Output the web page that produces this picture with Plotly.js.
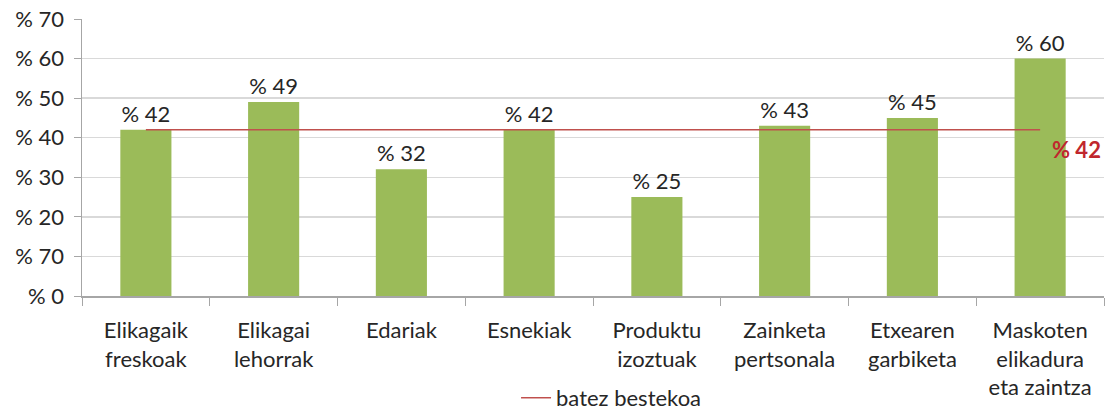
<!DOCTYPE html>
<html>
<head>
<meta charset="utf-8">
<script src="https://cdn.plot.ly/plotly-3.0.1.min.js"></script>
<style>html,body{margin:0;padding:0;background:#fff}#chart{width:1107px;height:410px}</style>
</head>
<body>
<div id="chart"></div>
<script>
const categories = ["Elikagaik<br>freskoak", "Elikagai<br>lehorrak", "Edariak", "Esnekiak", "Produktu<br>izoztuak", "Zainketa<br>pertsonala", "Etxearen<br>garbiketa", "Maskoten<br>elikadura<br>eta zaintza"];
const values = [42, 49, 32, 42, 25, 43, 45, 60];
const valueLabels = ["% 42", "% 49", "% 32", "% 42", "% 25", "% 43", "% 45", "% 60"];
const averageValue = 42;
const averageLabel = "% 42";
const averageName = "batez bestekoa";
const yTickVals = [0, 10, 20, 30, 40, 50, 60, 70];
const yTickText = ["% 0", "% 70", "% 20", "% 30", "% 40", "% 50", "% 60", "% 70"];

const FONT = "Lato, 'Open Sans', sans-serif";
const TXT = "#262626";

const bars = {
  type: "bar",
  x: categories,
  y: values,
  text: valueLabels,
  textposition: "outside",
  cliponaxis: false,
  textfont: {family: FONT, size: 22, color: TXT},
  marker: {color: "#9BBB59"},
  width: 0.4,
  showlegend: false,
  hoverinfo: "skip"
};
const avg = {
  type: "scatter",
  mode: "lines",
  x: categories,
  y: categories.map(() => averageValue),
  name: averageName,
  line: {color: "#C0504D", width: 1.5},
  showlegend: true
};

const layout = {
  width: 1107, height: 410,
  margin: {l: 82, r: 3, t: 19, b: 114, autoexpand: false},
  paper_bgcolor: "#fff", plot_bgcolor: "#fff",
  font: {family: FONT, size: 22, color: TXT},
  xaxis: {
    type: "category", automargin: false,
    showline: true, linecolor: "#A6A6A6", linewidth: 1.5,
    ticks: "outside", tickson: "boundaries", ticklen: 8, tickcolor: "#A6A6A6",
    ticklabelstandoff: 14,
    tickfont: {family: FONT, size: 22, color: TXT},
    showgrid: false, fixedrange: true
  },
  yaxis: {
    range: [0, 70], automargin: false,
    tickvals: yTickVals, ticktext: yTickText,
    showline: true, linecolor: "#A6A6A6", linewidth: 1.5,
    ticks: "outside", ticklen: 7, tickcolor: "#A6A6A6",
    ticklabelstandoff: 5,
    showgrid: true, gridcolor: "#D9D9D9", gridwidth: 1.5,
    zeroline: false,
    tickfont: {family: FONT, size: 22, color: TXT},
    fixedrange: true
  },
  legend: {
    orientation: "h", x: 0.4247, xanchor: "left", y: -0.368, yanchor: "middle",
    font: {family: FONT, size: 22, color: TXT}
  },
  annotations: [{
    x: categories[categories.length - 1], y: averageValue,
    xref: "x", yref: "y",
    text: "<b>" + averageLabel + "</b>",
    showarrow: false, xshift: 36, yshift: -20,
    font: {family: FONT, size: 22, color: "#C0272D"}
  }]
};

Plotly.newPlot("chart", [bars, avg], layout, {displayModeBar: false, staticPlot: true});
</script>
</body>
</html>
